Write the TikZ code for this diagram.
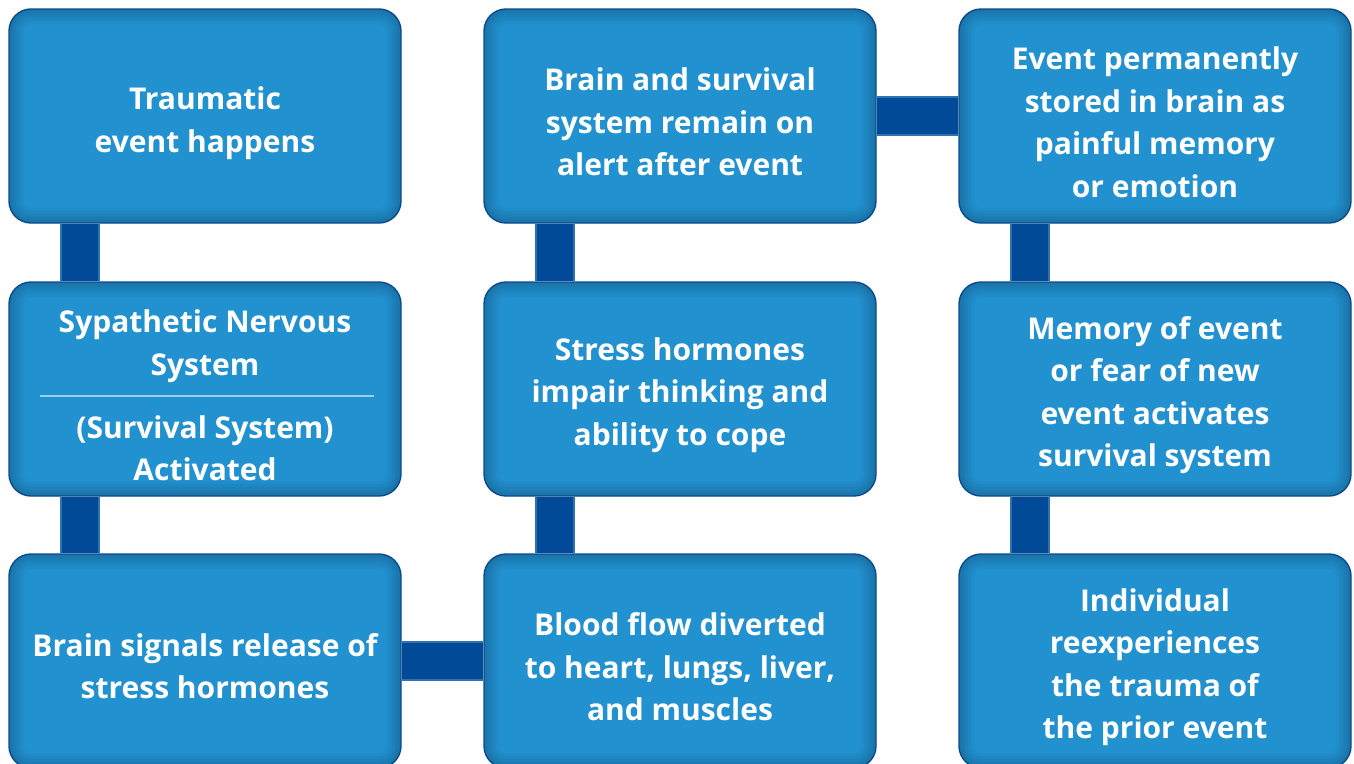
\documentclass[tikz,border=0pt]{standalone}
\usepackage{fontspec}
\setmainfont{Open Sans}
\usetikzlibrary{calc}
\pgfdeclarelayer{bg}
\pgfsetlayers{bg,main}
\definecolor{boxfill}{HTML}{2291D0}
\definecolor{boxedge}{HTML}{0B4A8E}
\definecolor{conncol}{HTML}{004A98}
\definecolor{connedge}{HTML}{2F72B4}
\definecolor{rulecol}{HTML}{9DCBEB}
\tikzset{
  shade ring/.style={draw=black, opacity=#1, rounded corners=22pt},
  stagebox/.style={rectangle, rounded corners=22pt, minimum width=392pt, minimum height=214pt,
    inner sep=0pt, fill=boxfill, draw=boxedge, line width=1.4pt, text=white,
    path picture={
      \foreach \w in {30,24,18,13,9,5}{
        \draw[shade ring=0.03, line width=\w pt]
          (path picture bounding box.south west) rectangle (path picture bounding box.north east);
      }
    }},
  boxtext/.style={font=\fontsize{30}{42.5}\selectfont\bfseries, text=white, align=center, inner sep=0pt},
  connbar/.style={draw=connedge, line width=40pt},
  connfill/.style={draw=conncol, line width=36pt},
}
\begin{document}
\begin{tikzpicture}[x=1pt,y=-1pt]
\useasboundingbox (0,0) rectangle (1354,763);
\clip (0,0) rectangle (1354,763);
% boxes
\node[stagebox] (a1) at (205,116) {};
\node[stagebox] (a2) at (205,389) {};
\node[stagebox] (a3) at (205,661) {};
\node[stagebox] (b1) at (680,116) {};
\node[stagebox] (b2) at (680,389) {};
\node[stagebox] (b3) at (680,661) {};
\node[stagebox] (c1) at (1155,116) {};
\node[stagebox] (c2) at (1155,389) {};
\node[stagebox] (c3) at (1155,661) {};
% texts
\node[boxtext] (ta1) at ([yshift=-7pt]a1.center) {Traumatic\\event happens};
\node[boxtext] (ta3) at ([yshift=-5pt]a3.center) {Brain signals release of\\stress hormones};
\node[boxtext] (tb1) at ([yshift=-6pt]b1.center) {Brain and survival\\system remain on\\alert after event};
\node[boxtext] (tb2) at ([yshift=-6pt]b2.center) {Stress hormones\\impair thinking and\\ability to cope};
\node[boxtext] (tb3) at ([yshift=-6pt]b3.center) {Blood flow diverted\\to heart, lungs, liver,\\and muscles};
\node[boxtext] (tc1) at ([yshift=-6pt]c1.center) {Event permanently\\stored in brain as\\painful memory\\or emotion};
\node[boxtext] (tc2) at ([yshift=-6pt]c2.center) {Memory of event\\or fear of new\\event activates\\survival system};
\node[boxtext] (tc3) at ([yshift=-6pt]c3.center) {Individual\\reexperiences\\the trauma of\\the prior event};
\node[boxtext] (a2top) at (205,346) {Sypathetic Nervous\\System};
\node[boxtext] (a2bot) at (205,448) {(Survival System)\\Activated};
\coordinate (rl) at (40,396);
\coordinate (rr) at (374,396);
\draw[rulecol, line width=1.3pt] (rl) -- (rr);
% connectors (behind boxes)
\begin{pgfonlayer}{bg}
\fill[white] (0,0) rectangle (1354,763);
\foreach \u/\v in {a1/a2, a2/a3, b1/b2, b2/b3, c1/c2, c2/c3} {
  \draw[connbar] ([xshift=-125pt]\u.south) -- ([xshift=-125pt]\v.north);
  \draw[connfill] ([xshift=-125pt]\u.south) -- ([xshift=-125pt]\v.north);
}
\foreach \u/\v in {a3/b3, b1/c1} {
  \draw[connbar] (\u.east) -- (\v.west);
  \draw[connfill] (\u.east) -- (\v.west);
}
\end{pgfonlayer}
\end{tikzpicture}
\end{document}
